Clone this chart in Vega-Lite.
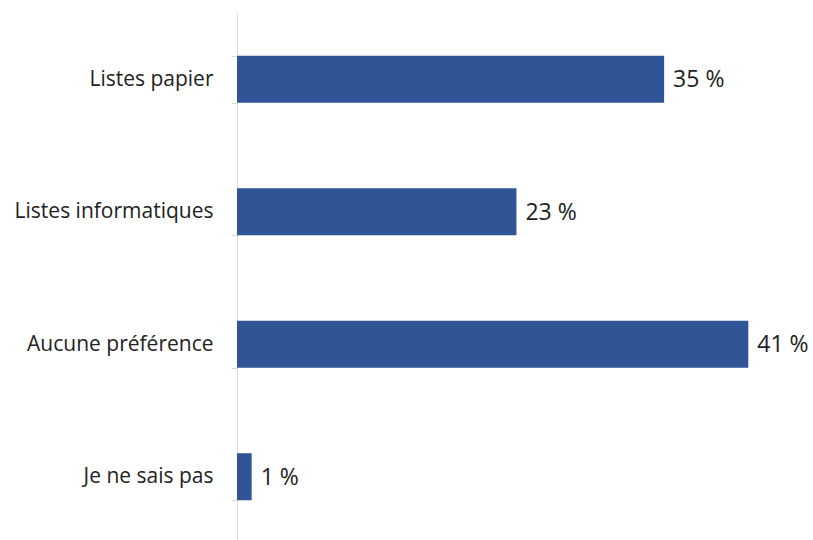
{
  "$schema": "https://vega.github.io/schema/vega-lite/v6.json",
  "width": 576,
  "height": 530,
  "padding": {"left": 237, "top": 13, "right": 0, "bottom": 0},
  "autosize": {"type": "none"},
  "background": "white",
  "config": {"view": {"stroke": null}, "font": "Open Sans"},
  "data": {
    "values": [
      {"categorie": "Listes papier", "pourcentage": 35.0, "etiquette": "35 %"},
      {"categorie": "Listes informatiques", "pourcentage": 22.9, "etiquette": "23 %"},
      {"categorie": "Aucune préférence", "pourcentage": 41.9, "etiquette": "41 %"},
      {"categorie": "Je ne sais pas", "pourcentage": 1.2, "etiquette": "1 %"}
    ]
  },
  "encoding": {
    "y": {
      "field": "categorie",
      "type": "nominal",
      "sort": null,
      "scale": {"paddingInner": 0.645, "paddingOuter": 0.3225},
      "axis": {
        "title": null,
        "domainColor": "#d9d9d9",
        "domainWidth": 1,
        "tickColor": "#d9d9d9",
        "tickSize": 6,
        "tickBand": "extent",
        "labelPadding": 18,
        "labelFontSize": 21,
        "labelLimit": 300,
        "labelColor": "#222222",
        "labelFont": "Open Sans"
      }
    },
    "x": {
      "field": "pourcentage",
      "type": "quantitative",
      "scale": {"domain": [0, 47.2], "nice": false},
      "axis": null
    }
  },
  "layer": [
    {"mark": {"type": "bar", "color": "#2F5597"}},
    {
      "mark": {"type": "text", "align": "left", "dx": 9, "dy": 1, "fontSize": 23, "color": "#222222", "font": "Open Sans"},
      "encoding": {"text": {"field": "etiquette"}}
    }
  ]
}
